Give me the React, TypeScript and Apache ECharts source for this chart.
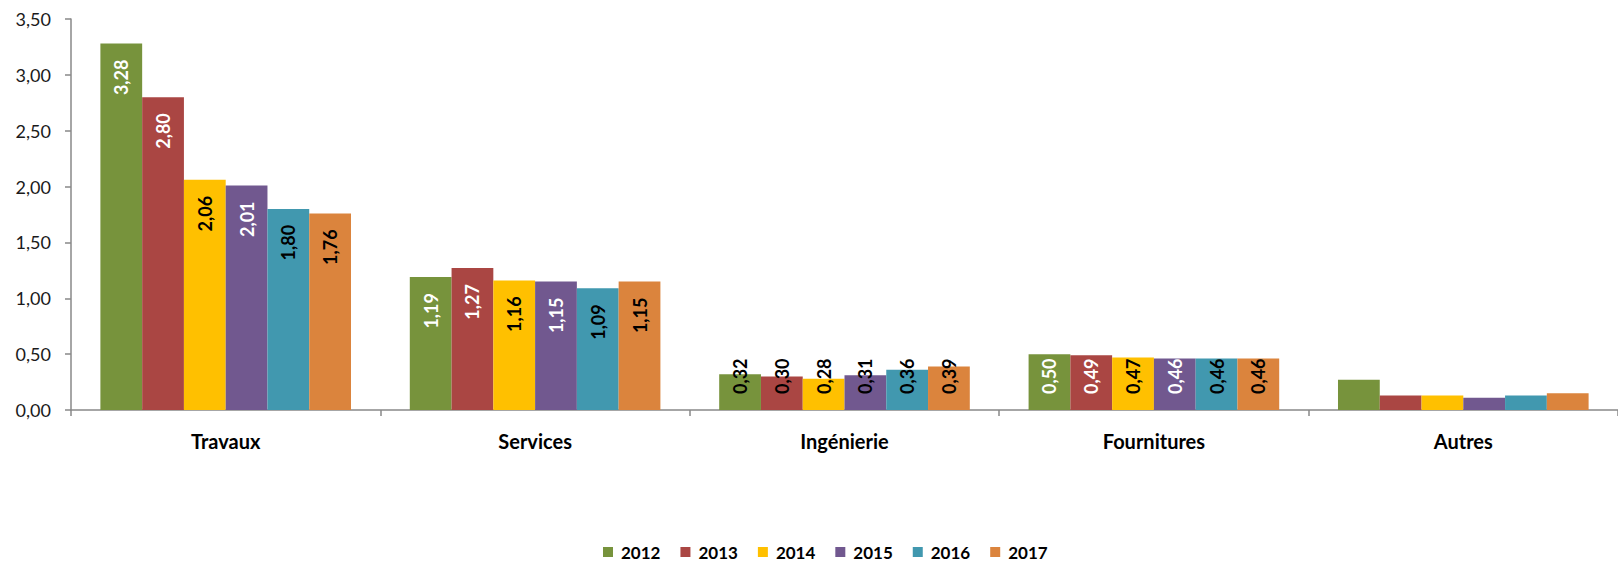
import React, { useEffect, useRef } from "react";
import * as echarts from "echarts";

const categories = ["Travaux", "Services", "Ingénierie", "Fournitures", "Autres"];
const years = ["2012", "2013", "2014", "2015", "2016", "2017"];
const v2012 = [3.28, 1.19, 0.32, 0.5, 0.27];
const v2013 = [2.8, 1.27, 0.3, 0.49, 0.13];
const v2014 = [2.06, 1.16, 0.28, 0.47, 0.13];
const v2015 = [2.01, 1.15, 0.31, 0.46, 0.11];
const v2016 = [1.8, 1.09, 0.36, 0.46, 0.13];
const v2017 = [1.76, 1.15, 0.39, 0.46, 0.15];
const labelShown = [true, true, true, true, false];
const yTicks = [0, 0.5, 1, 1.5, 2, 2.5, 3, 3.5];

const colors = ["#77933C", "#AA4643", "#FFC000", "#71588F", "#4198AF", "#DB843D"];
const labelColors = ["#ffffff", "#ffffff", "#000000", "#ffffff", "#000000", "#000000"];
const FONT = "Lato, 'Open Sans', sans-serif";

const fmt = (v: number) => v.toFixed(2).replace(".", ",");

export default function App() {
  const ref = useRef<HTMLDivElement>(null);
  useEffect(() => {
    document.body.style.margin = "0";
    const chart = echarts.init(ref.current!, null, { renderer: "svg" });
    const all = [v2012, v2013, v2014, v2015, v2016, v2017];
    const series = all.map((vals, si) => ({
      name: years[si],
      type: "bar",
      barGap: "0%",
      barCategoryGap: "19%",
      itemStyle: { color: colors[si] },
      data: vals.map((v, ci) => {
        const tall = v > 0.6;
        const overflow = v < 0.42;
        return {
          value: v,
          label: {
            show: labelShown[ci],
            position: tall ? "insideTop" : "insideBottom",
            distance: 16,
            rotate: 90,
            align: tall ? "right" : "left",
            verticalAlign: "middle",
            color: overflow ? "#000000" : labelColors[si],
            fontFamily: FONT,
            fontWeight: "bold",
            fontSize: 18,
            formatter: (p: any) => fmt(p.value),
          },
        };
      }),
    }));
    chart.setOption({
      animation: false,
      grid: { left: 71, right: -5, top: 19, bottom: 151, containLabel: false },
      legend: {
        data: years,
        left: 598,
        top: 538,
        icon: "rect",
        itemWidth: 10,
        itemHeight: 10,
        itemGap: 20,
        textStyle: {
          fontFamily: FONT,
          fontWeight: "bold",
          fontSize: 17,
          lineHeight: 18,
          color: "#000",
          padding: [0, 0, 0, 3],
        },
      },
      xAxis: {
        type: "category",
        data: categories,
        axisLine: { lineStyle: { color: "#898989", width: 1.5 } },
        axisTick: { show: true, length: 6, lineStyle: { color: "#898989", width: 1.5 } },
        axisLabel: {
          margin: 21,
          fontFamily: FONT,
          fontWeight: "bold",
          fontSize: 20,
          color: "#000",
        },
      },
      yAxis: {
        type: "value",
        min: yTicks[0],
        max: yTicks[yTicks.length - 1],
        interval: 0.5,
        splitLine: { show: false },
        axisLine: { show: true, lineStyle: { color: "#898989", width: 1.5 } },
        axisTick: { show: true, length: 6, lineStyle: { color: "#898989", width: 1.5 } },
        axisLabel: {
          margin: 20,
          fontFamily: FONT,
          fontSize: 18,
          color: "#1a1a1a",
          formatter: (v: number) => fmt(v),
        },
      },
      series,
    });
    return () => chart.dispose();
  }, []);
  return <div ref={ref} style={{ width: 1618, height: 561 }} />;
}
